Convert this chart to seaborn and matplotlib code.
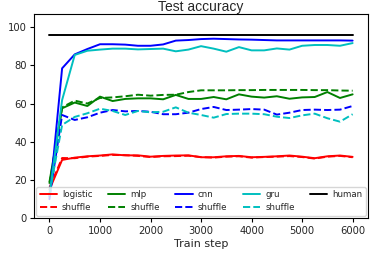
import numpy as np
import pandas as pd
import matplotlib
matplotlib.use("Agg")
import matplotlib.pyplot as plt
import seaborn as sns

steps = list(range(0, 6001, 250))

logistic = [15, 30.5, 31.7, 32.4, 32.8, 33.4, 32.9, 32.9, 32.2, 32.6, 32.8, 32.9, 31.9,
            31.9, 32.4, 32.6, 31.9, 32.1, 32.4, 32.8, 32.2, 31.4, 32.4, 32.8, 32.1]
logistic_shuffle = [16, 31.5, 31.4, 32.2, 32.6, 33.1, 33.0, 32.6, 32.0, 32.4, 32.5, 32.7, 32.0,
                    31.7, 32.2, 32.4, 31.7, 32.0, 32.2, 32.5, 32.0, 31.2, 32.2, 32.6, 31.9]
mlp = [19, 57.5, 60.5, 58.7, 63.6, 61.3, 62.4, 62.7, 62.7, 62.2, 64.5, 62.4, 62.4,
       63.4, 62.2, 64.8, 63.6, 63.1, 63.8, 62.5, 63.2, 63.4, 66.0, 62.9, 64.8]
mlp_shuffle = [18, 58.0, 61.5, 60.0, 62.9, 63.2, 63.8, 64.6, 64.1, 64.5, 64.6, 66.0, 66.9,
               66.9, 66.9, 67.0, 67.0, 67.1, 67.1, 67.1, 67.1, 67.0, 67.0, 66.8, 66.7]
cnn = [10, 78.4, 85.7, 88.5, 91.0, 91.0, 90.8, 90.2, 90.2, 90.9, 92.9, 93.2, 93.7,
       93.9, 93.7, 93.5, 93.4, 93.2, 93.0, 93.0, 93.0, 93.0, 93.0, 93.0, 92.9]
cnn_shuffle = [11, 54.0, 51.4, 52.8, 55.2, 56.6, 55.9, 56.1, 55.7, 54.4, 54.4, 55.2, 57.1,
               58.2, 56.6, 56.8, 57.1, 56.8, 54.2, 55.2, 56.6, 56.8, 56.6, 56.8, 58.7]
gru = [12, 61.8, 85.4, 87.6, 88.2, 88.7, 88.7, 88.3, 88.5, 88.7, 87.3, 88.2, 90.0,
       88.7, 87.1, 89.5, 87.8, 87.8, 88.8, 88.2, 90.2, 90.6, 90.6, 90.2, 91.6]
gru_shuffle = [13, 48.8, 53.0, 54.9, 57.3, 56.1, 54.0, 56.1, 55.4, 55.7, 58.0, 55.2, 54.0,
               52.6, 54.5, 54.7, 54.7, 54.4, 53.1, 52.4, 53.8, 54.7, 52.3, 50.5, 54.4]
human = [96.0] * len(steps)

series = [
    ("logistic", logistic, "red", "-"),
    ("shuffle", logistic_shuffle, "red", "--"),
    ("mlp", mlp, "green", "-"),
    ("shuffle", mlp_shuffle, "green", "--"),
    ("cnn", cnn, "blue", "-"),
    ("shuffle", cnn_shuffle, "blue", "--"),
    ("gru", gru, "#00bfbf", "-"),
    ("shuffle", gru_shuffle, "#00bfbf", "--"),
    ("human", human, "black", "-"),
]

sns.set_style("ticks")
plt.rcParams['font.family'] = ['DejaVu Sans']

fig = plt.figure(figsize=(3.73, 2.62), dpi=100)
ax = fig.add_axes([0.092, 0.167, 0.894, 0.778])

for label, vals, color, ls in series:
    df = pd.DataFrame({"step": steps, "acc": vals})
    sns.lineplot(data=df, x="step", y="acc", color=color, linestyle=ls,
                 linewidth=1.4, label=label, ax=ax)

ax.set_ylim(0, 106.6)
ax.set_xticks([0, 1000, 2000, 3000, 4000, 5000, 6000])
ax.set_yticks([0, 20, 40, 60, 80, 100])
ax.tick_params(labelsize=7.2, length=3, width=0.8, color="black", pad=2.5)
ax.set_xlabel("Train step", fontsize=8.0, labelpad=2)
ax.set_ylabel("")
ax.set_title("Test accuracy", fontsize=10.0, pad=2,
             family=["Liberation Sans", "DejaVu Sans"])
for s in ax.spines.values():
    s.set_color("black")
    s.set_linewidth(0.8)

ax.legend(ncol=5, loc="lower center", fontsize=6.2, frameon=True,
          columnspacing=1.8, handlelength=2.0, borderaxespad=0.3,
          labelspacing=0.45, handletextpad=0.6)

fig.savefig("out.png", dpi=100)
